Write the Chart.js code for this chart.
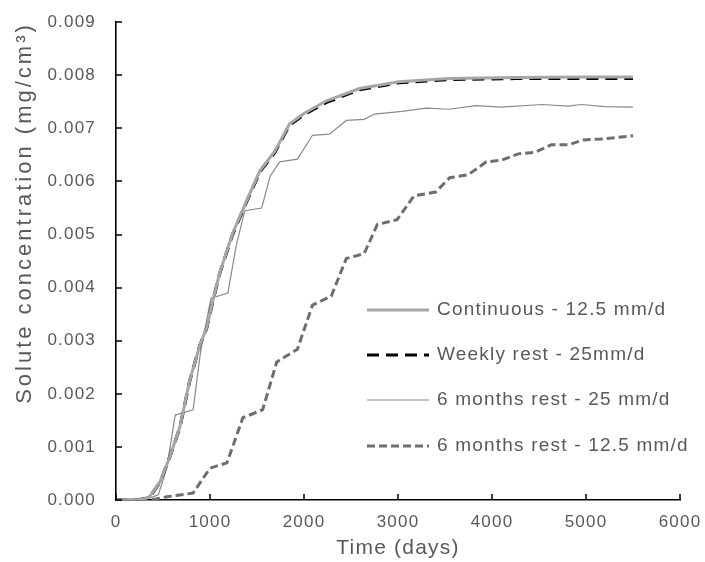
<!DOCTYPE html>
<html>
<head>
<meta charset="utf-8">
<script src="https://cdn.jsdelivr.net/npm/chart.js@4.4.1/dist/chart.umd.min.js"></script>
<style>
html,body{margin:0;padding:0;background:#fff;}
#wrap{width:705px;height:562px;position:relative;}
</style>
</head>
<body>
<div id="wrap"><canvas id="c" width="705" height="562"></canvas></div>
<script>
// ---- data ----
const seriesLabels = ["Continuous - 12.5 mm/d", "Weekly rest - 25mm/d", "6 months rest - 25 mm/d", "6 months rest - 12.5 mm/d"];
const xTitle = "Time (days)";
const yTitle = "Solute concentration (mg/cm³)";
const xTicks = [0, 1000, 2000, 3000, 4000, 5000, 6000];
const yTicks = [0, 0.001, 0.002, 0.003, 0.004, 0.005, 0.006, 0.007, 0.008, 0.009];

const contDays = [0, 200, 300, 360, 470, 570, 680, 785, 890, 965, 1030, 1100, 1240, 1390, 1530, 1690, 1845, 2000, 2240, 2590, 3010, 3540, 4250, 5000, 5500];
const contConc = [0, 0, 0.00002, 0.00007, 0.00035, 0.0008, 0.00138, 0.00226, 0.0029, 0.00325, 0.00375, 0.00426, 0.00502, 0.00564, 0.0062, 0.00657, 0.00708, 0.00728, 0.00752, 0.00775, 0.00788, 0.00794, 0.00796, 0.00797, 0.00797];

const weeklyDays = [0, 200, 300, 360, 470, 570, 680, 785, 890, 965, 1030, 1100, 1240, 1390, 1530, 1690, 1845, 2000, 2240, 2590, 3010, 3540, 4250, 5000, 5500];
const weeklyConc = [0, 0, 0.00002, 0.00006, 0.00034, 0.0008, 0.00137, 0.00225, 0.0029, 0.00324, 0.00374, 0.00425, 0.005, 0.00562, 0.00618, 0.00655, 0.00706, 0.00726, 0.00749, 0.00773, 0.00786, 0.00792, 0.00794, 0.00794, 0.00794];

const sixM25Days = [0, 300, 450, 540, 630, 820, 900, 1010, 1190, 1280, 1370, 1550, 1640, 1740, 1930, 2090, 2270, 2450, 2640, 2750, 3040, 3300, 3540, 3830, 4100, 4530, 4810, 4950, 5200, 5500];
const sixM25Conc = [0, 0, 0.0001, 0.0006, 0.0016, 0.0017, 0.0028, 0.0038, 0.0039, 0.0048, 0.00545, 0.0055, 0.0061, 0.00637, 0.00642, 0.00687, 0.00689, 0.00715, 0.00717, 0.00727, 0.00732, 0.00738, 0.00736, 0.00743, 0.0074, 0.00745, 0.00742, 0.00745, 0.00741, 0.0074];

const sixM125Days = [0, 360, 540, 820, 1000, 1180, 1350, 1560, 1710, 1930, 2090, 2290, 2450, 2640, 2780, 2990, 3170, 3400, 3550, 3750, 3940, 4100, 4280, 4460, 4630, 4810, 4970, 5160, 5500];
const sixM125Conc = [0, 0, 0.00006, 0.00013, 0.0006, 0.0007, 0.00155, 0.0017, 0.0026, 0.00284, 0.00367, 0.00384, 0.00455, 0.00464, 0.00519, 0.00528, 0.00573, 0.0058, 0.00607, 0.00613, 0.00637, 0.0064, 0.00652, 0.00655, 0.00669, 0.00669, 0.00678, 0.0068, 0.00686];

function pts(xs, ys){ return xs.map((x,i)=>({x:x, y:ys[i]})); }

const TXT = '#595959';
const FONT = '"Liberation Sans", Arial, sans-serif';

const spacing = {
  id: 'spacing',
  beforeDraw(chart){ chart.ctx.letterSpacing = '1.2px'; }
};

const insideTicks = {
  id: 'insideTicks',
  afterDraw(chart){
    const ctx = chart.ctx, xs = chart.scales.x, ys = chart.scales.y;
    ctx.save();
    ctx.strokeStyle = '#000'; ctx.lineWidth = 1.5;
    ctx.beginPath();
    yTicks.forEach(v=>{ const p = Math.round(ys.getPixelForValue(v)); ctx.moveTo(xs.left, p); ctx.lineTo(xs.left+6, p); });
    xTicks.forEach(v=>{ const p = Math.round(xs.getPixelForValue(v)); ctx.moveTo(p, ys.bottom); ctx.lineTo(p, ys.bottom-6); });
    ctx.stroke();
    ctx.restore();
  }
};

const yTitlePlugin = {
  id: 'yTitlePlugin',
  afterDraw(chart, args, opts){
    const ctx = chart.ctx, ys = chart.scales.y;
    ctx.save();
    ctx.font = opts.font;
    ctx.letterSpacing = opts.letterSpacing;
    ctx.fillStyle = TXT;
    ctx.textBaseline = 'middle';
    ctx.textAlign = 'right';
    ctx.translate(opts.x, ys.top);
    ctx.rotate(-Math.PI/2);
    ctx.fillText(yTitle, 0, 0);
    ctx.restore();
  }
};

const innerLegend = {
  id: 'innerLegend',
  afterDraw(chart, args, opts){
    const ctx = chart.ctx;
    ctx.save();
    ctx.font = opts.font;
    ctx.letterSpacing = opts.letterSpacing;
    ctx.fillStyle = TXT;
    ctx.textBaseline = 'middle';
    chart.data.datasets.forEach((ds, i)=>{
      const y = opts.rows[i];
      ctx.save();
      ctx.strokeStyle = ds.borderColor;
      ctx.lineWidth = ds.borderWidth;
      ctx.setLineDash(ds.borderDash || []);
      ctx.beginPath(); ctx.moveTo(opts.x0, y); ctx.lineTo(opts.x1, y); ctx.stroke();
      ctx.restore();
      ctx.fillText(ds.label, opts.tx, y);
    });
    ctx.restore();
  }
};

new Chart(document.getElementById('c'), {
  type: 'line',
  data: {
    datasets: [
      { label: seriesLabels[0], data: pts(contDays, contConc), borderColor: '#a6a6a6', borderWidth: 3, pointRadius: 0, tension: 0 },
      { label: seriesLabels[1], data: pts(weeklyDays, weeklyConc), borderColor: '#000000', borderWidth: 3.2, borderDash: [12, 7], pointRadius: 0, tension: 0 },
      { label: seriesLabels[2], data: pts(sixM25Days, sixM25Conc), borderColor: '#8a8a8a', borderWidth: 1.2, pointRadius: 0, tension: 0 },
      { label: seriesLabels[3], data: pts(sixM125Days, sixM125Conc), borderColor: '#6e6e6e', borderWidth: 3, borderDash: [8, 4], pointRadius: 0, tension: 0 }
    ]
  },
  options: {
    responsive: false,
    animation: false,
    layout: { padding: { left: 0, right: 25, top: 19, bottom: 0 } },
    plugins: {
      legend: { display: false },
      tooltip: { enabled: false },
      innerLegend: { font: '19px ' + FONT, letterSpacing: '1.2px', rows: [310, 355, 400, 446], x0: 367, x1: 429, tx: 437 },
      yTitlePlugin: { font: '22px ' + FONT, letterSpacing: '3px', x: 25 }
    },
    scales: {
      x: {
        type: 'linear', min: 0, max: 6000,
        afterBuildTicks(s){ s.ticks = xTicks.map(v=>({value:v})); },
        afterFit(s){ s.height = 62; },
        grid: { display: false },
        border: { display: true, color: '#000', width: 1.6 },
        ticks: { color: TXT, font: { family: FONT, size: 17 }, padding: 4, maxRotation: 0, callback: v => String(v) },
        title: { display: true, text: xTitle, color: TXT, font: { family: FONT, size: 21 }, padding: { top: 0, bottom: 1 } }
      },
      y: {
        type: 'linear', min: 0, max: 0.009,
        afterBuildTicks(s){ s.ticks = yTicks.map(v=>({value:v})); },
        afterFit(s){ s.width = 116; },
        grid: { display: false },
        border: { display: true, color: '#000', width: 1.6 },
        ticks: { color: TXT, font: { family: FONT, size: 17 }, padding: 12, callback: v => v.toFixed(3) },
        title: { display: false }
      }
    }
  },
  plugins: [spacing, insideTicks, yTitlePlugin, innerLegend]
});
</script>
</body>
</html>
